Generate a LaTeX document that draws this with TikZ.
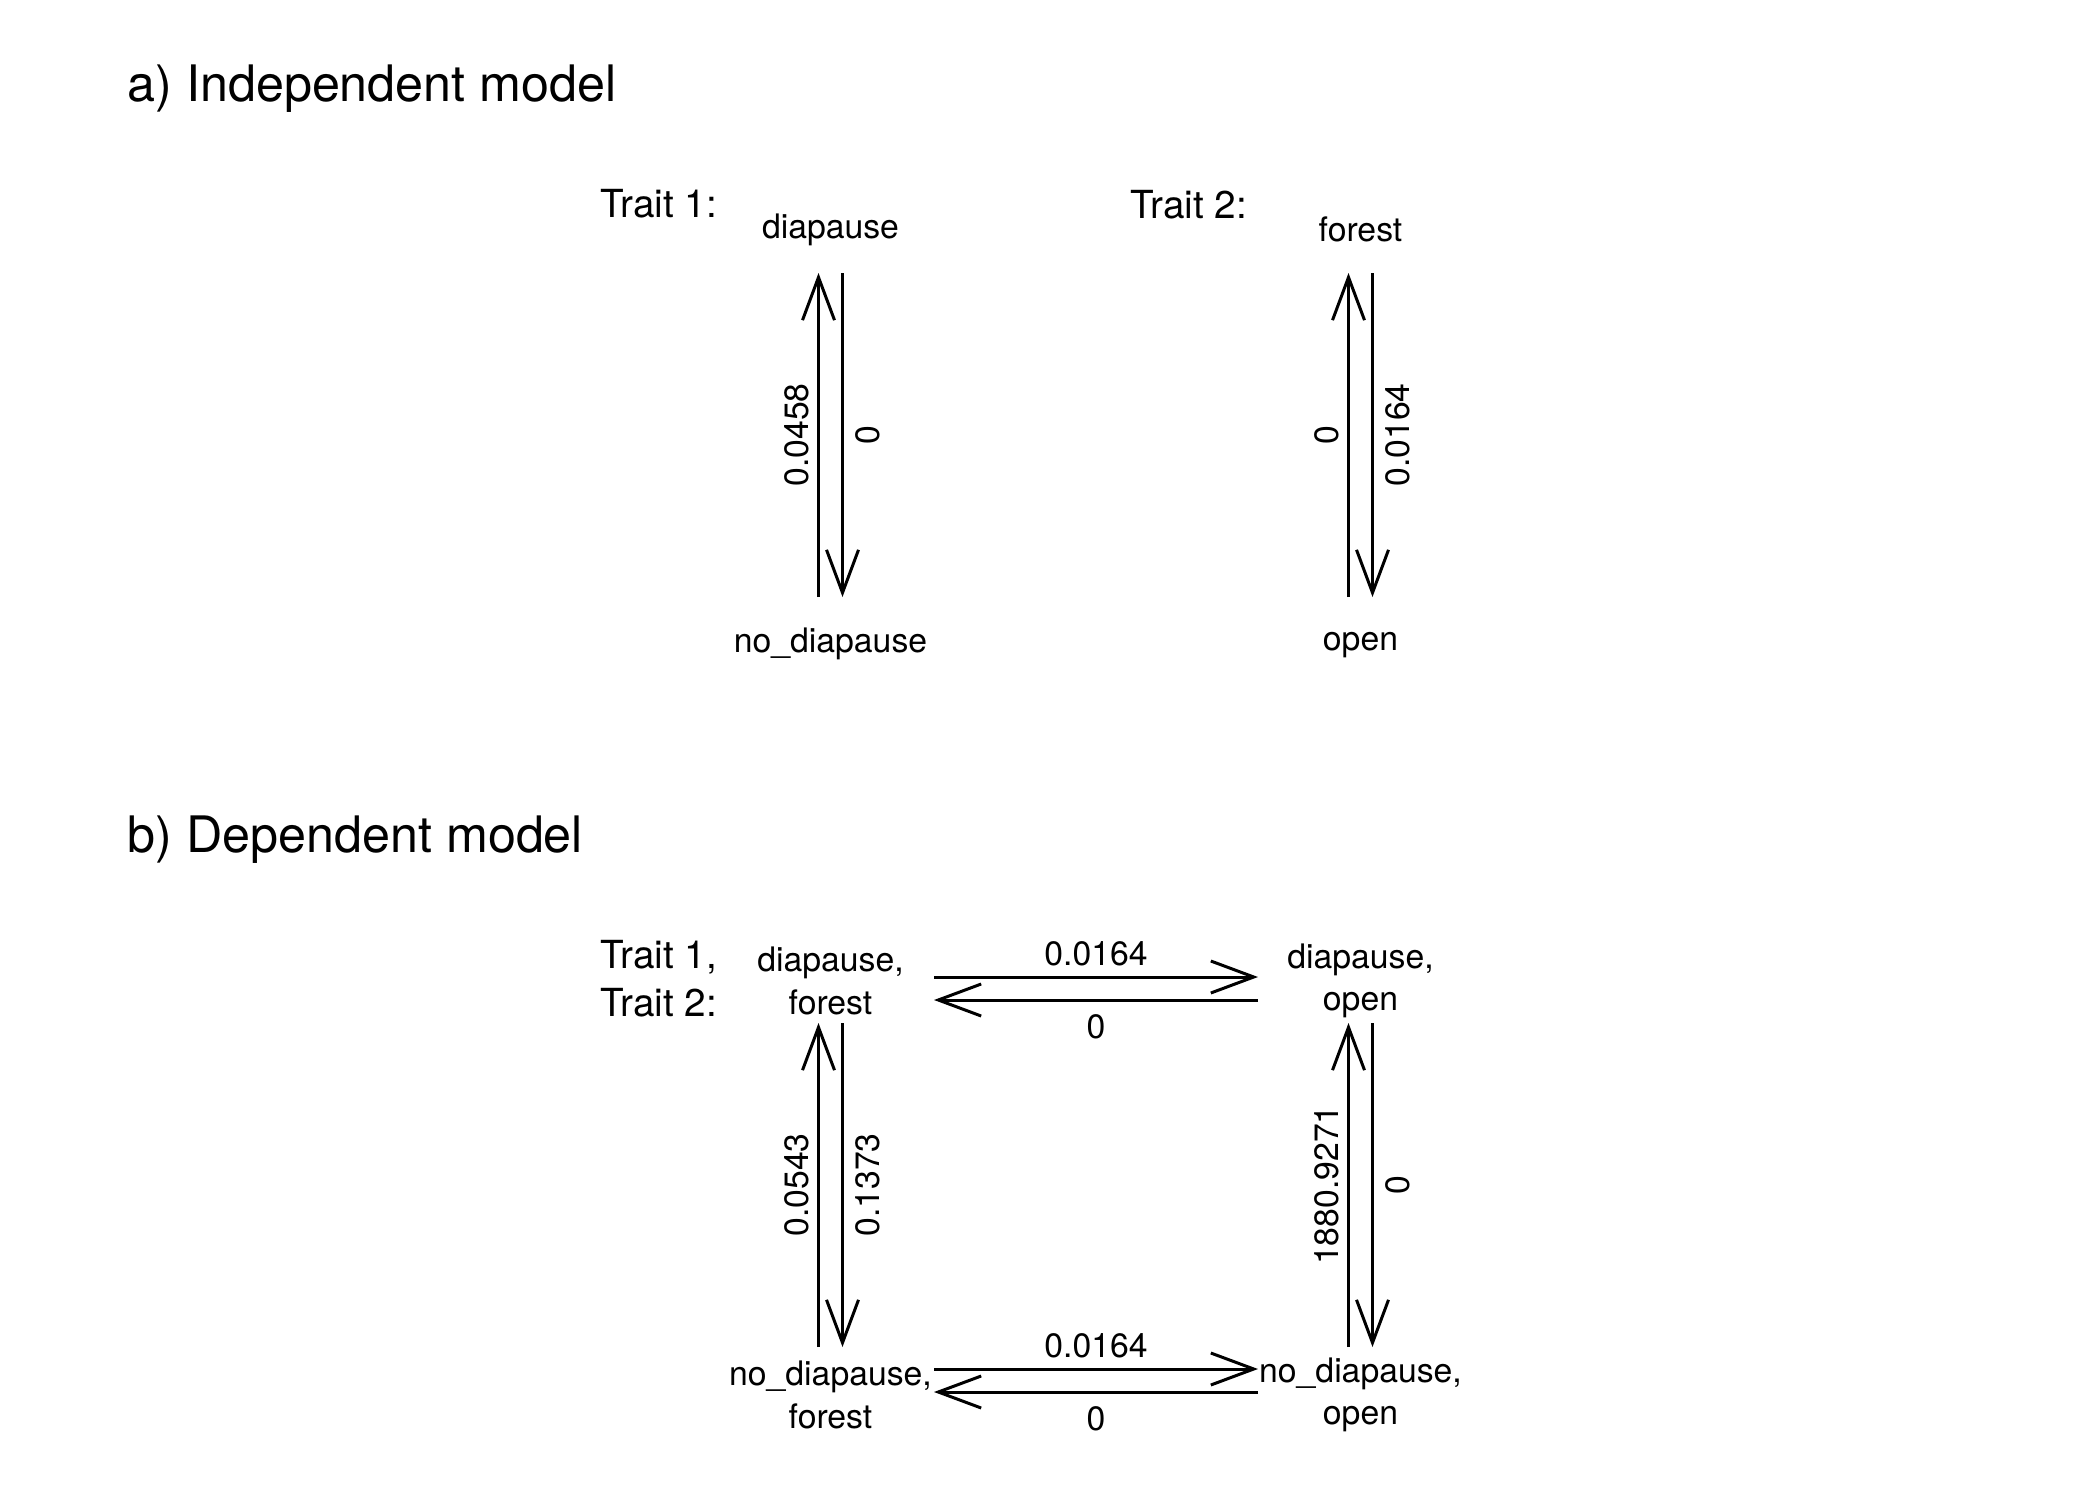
\documentclass[tikz,border=0pt]{standalone}
\usepackage{fontspec}
\setmainfont{TeX Gyre Heros}
\usetikzlibrary{arrows.meta}
\usetikzlibrary{calc}

\begin{document}
\begin{tikzpicture}[
    x=0.01cm, y=-0.01cm,
    line width=0.85pt,
    font=\fontsize{9.6pt}{12pt}\selectfont
]
\tikzset{
    state/.style = {inner sep=0pt, align=center},
    trait/.style = {inner sep=0pt, anchor=west, align=left, font=\fontsize{11pt}{13.7pt}\selectfont},
    heading/.style = {inner sep=0pt, anchor=base west, font=\fontsize{14.3pt}{17pt}\selectfont},
    rate/.style = {-{Straight Barb[length=12.2pt,width=9.1pt]}},
    ratel/.style = {midway, rotate=90, anchor=south, inner sep=2.3pt},
    rater/.style = {midway, rotate=90, anchor=north, inner sep=3.3pt},
    rateu/.style = {midway, above, inner sep=2.8pt},
    rated/.style = {midway, below, inner sep=3.6pt}
}
\useasboundingbox (0,0) rectangle (2100,1500);

% a) independent model
\node[heading] at (126,102) (ta) {a) Independent model};
\node[trait] at (599,204) (t1) {Trait 1:};
\node[trait] at (1129,205) (t2) {Trait 2:};
\node[state] at (830.5,229.5) (dia) {diapause};
\node[state] at (830.5,644) (nodia) {no\_diapause};
\node[state] at (1360.5,229.5) (fo) {forest};
\node[state] at (1360.5,645) (op) {open};
\draw[rate] ($(nodia)+(-12,-47)$) -- node[ratel] {0.0458} ($(dia)+(-12,43.5)$);
\draw[rate] ($(dia)+(12,43.5)$) -- node[rater] {0} ($(nodia)+(12,-47)$);
\draw[rate] ($(op)+(-12,-48)$) -- node[ratel] {0} ($(fo)+(-12,43.5)$);
\draw[rate] ($(fo)+(12,43.5)$) -- node[rater] {0.0164} ($(op)+(12,-48)$);

% b) dependent model
\node[heading] at (126,852) (tb) {b) Dependent model};
\node[trait] at (599,978.5) (t12) {Trait 1,\\Trait 2:};
\node[state] at (830.5,981) (df) {diapause,\\forest};
\node[state] at (1360.5,981) (do) {diapause,\\open};
\node[state] at (830.5,1395) (nf) {no\_diapause,\\forest};
\node[state] at (1360.5,1395) (no) {no\_diapause,\\open};
\draw[rate] ($(df)+(103.5,-4)$) -- node[rateu] {0.0164} ($(do)+(-102.5,-4)$);
\draw[rate] ($(do)+(-102.5,19)$) -- node[rated] {0} ($(df)+(103.5,19)$);
\draw[rate] ($(nf)+(103.5,-26)$) -- node[rateu] {0.0164} ($(no)+(-102.5,-26)$);
\draw[rate] ($(no)+(-102.5,-3)$) -- node[rated] {0} ($(nf)+(103.5,-3)$);
\draw[rate] ($(nf)+(-12,-48)$) -- node[ratel] {0.0543} ($(df)+(-12,42)$);
\draw[rate] ($(df)+(12,42)$) -- node[rater] {0.1373} ($(nf)+(12,-48)$);
\draw[rate] ($(no)+(-12,-48)$) -- node[ratel] {1880.9271} ($(do)+(-12,42)$);
\draw[rate] ($(do)+(12,42)$) -- node[rater] {0} ($(no)+(12,-48)$);
\end{tikzpicture}
\end{document}
